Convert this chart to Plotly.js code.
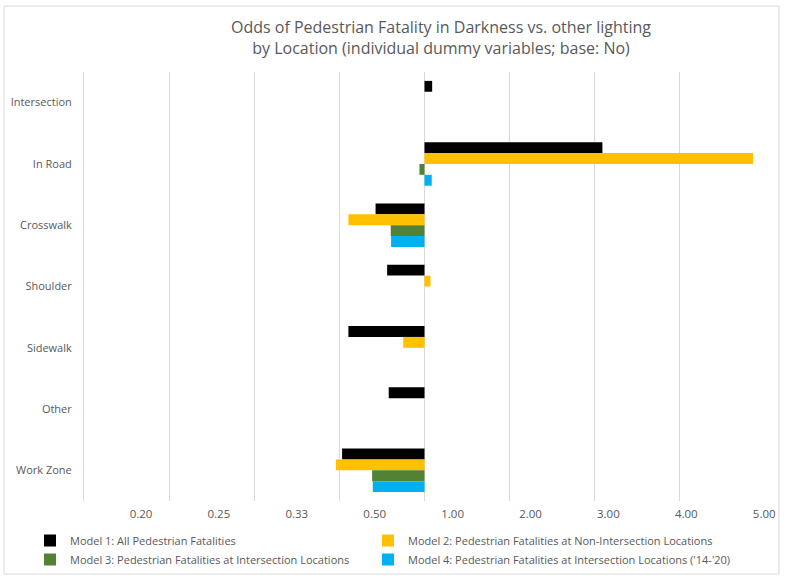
<!DOCTYPE html>
<html>
<head>
<meta charset="utf-8">
<script src="https://cdn.plot.ly/plotly-3.0.1.min.js"></script>
<style>
  html, body { margin: 0; padding: 0; background: #ffffff; }
  #chart { width: 792px; height: 580px; }
</style>
</head>
<body>
<div id="chart"></div>
<script>
// ---- Data (odds ratios) ----
const categories = ['Intersection', 'In Road', 'Crosswalk', 'Shoulder', 'Sidewalk', 'Other', 'Work Zone'];
const model1 = [1.09, 3.09, 0.635, 0.695, 0.528, 0.704, 0.508];
const model2 = [null, 4.86, 0.528, 1.07, 0.80, null, 0.49];
const model3 = [null, 0.944, 0.716, null, null, null, 0.619];
const model4 = [null, 1.085, 0.718, null, null, null, 0.622];
const seriesNames = [
  'Model 1: All Pedestrian Fatalities',
  'Model 2: Pedestrian Fatalities at Non-Intersection Locations',
  'Model 3: Pedestrian Fatalities at Intersection Locations',
  "Model 4: Pedestrian Fatalities at Intersection Locations ('14-'20)"
];
const seriesColors = ['#000000', '#FFC000', '#548235', '#00B0F0'];
const tickLabels = ['0.20', '0.25', '0.33', '0.50', '1.00', '2.00', '3.00', '4.00', '5.00'];

// Symmetric odds scale: OR>=1 -> OR-1, OR<1 -> 1-1/OR
function oddsScale(v) {
  if (v === null) return null;
  return v >= 1 ? v - 1 : 1 - 1 / v;
}

const allSeries = [model1, model2, model3, model4];
const legendIds = ['legend', 'legend2', 'legend', 'legend2'];
const traces = allSeries.map((s, i) => ({
  type: 'bar',
  orientation: 'h',
  y: categories,
  x: s.map(oddsScale),
  name: seriesNames[i],
  legend: legendIds[i],
  marker: { color: seriesColors[i], line: { width: 0 } },
  hoverinfo: 'name+y'
}));

// dummy trace on the label axis so xaxis2 is drawn
traces.push({
  type: 'scatter', mode: 'markers', x: [0], y: [categories[0]],
  xaxis: 'x2', yaxis: 'y', marker: { opacity: 0 }, showlegend: false, hoverinfo: 'skip'
});

// plot area in pixels
const L = 84, R = 765, T = 72, B = 501, W = 792, H = 580;
const px = v => (v - L) / (R - L);
const py = v => (B - v) / (B - T);

const legendBase = {
  orientation: 'v',
  yref: 'paper', y: py(526), yanchor: 'top',
  xanchor: 'left', xref: 'paper',
  font: { size: 11, color: '#595959' },
  itemwidth: 30,
  tracegroupgap: 0,
  traceorder: 'normal',
  bgcolor: 'rgba(0,0,0,0)'
};

const layout = {
  width: W, height: H,
  margin: { l: L, r: W - R, t: T, b: H - B, pad: 0, autoexpand: false },
  paper_bgcolor: '#ffffff',
  plot_bgcolor: '#ffffff',
  font: { family: '"Open Sans", "Noto Sans", sans-serif', color: '#595959', size: 11 },
  title: {
    text: 'Odds of Pedestrian Fatality in Darkness vs. other lighting<br>by Location (individual dummy variables; base: No)',
    font: { size: 16, color: '#595959', family: '"Open Sans", "Noto Sans", sans-serif' },
    xref: 'container', x: 441 / W, xanchor: 'center',
    yref: 'container', y: 1 - 33 / H, yanchor: 'top'
  },
  barmode: 'group',
  bargap: 0.29,
  bargroupgap: 0,
  xaxis: {
    range: [-4, 4],
    tickvals: [-4, -3, -2, -1, 0, 1, 2, 3, 4],
    showticklabels: false,
    showgrid: true, gridcolor: '#d9d9d9', gridwidth: 1,
    zeroline: true, zerolinecolor: '#d9d9d9', zerolinewidth: 1,
    showline: false, ticks: '', fixedrange: true
  },
  xaxis2: {
    overlaying: 'x', side: 'bottom', anchor: 'y',
    range: [(L - 141) / 77.9, (R - 141) / 77.9],
    tickvals: tickLabels.map((_, i) => i),
    ticktext: tickLabels,
    showgrid: false, zeroline: false, showline: false,
    ticks: 'outside', ticklen: 2, tickcolor: 'rgba(0,0,0,0)',
    tickfont: { size: 11.5, color: '#595959' },
    fixedrange: true
  },
  yaxis: {
    type: 'category',
    autorange: 'reversed',
    showgrid: false, zeroline: false,
    showline: true, linecolor: '#d9d9d9', linewidth: 1,
    ticks: '', ticklabelstandoff: 9,
    tickfont: { size: 11, color: '#595959' },
    fixedrange: true
  },
  showlegend: true,
  legend: Object.assign({}, legendBase, { x: px(30) }),
  legend2: Object.assign({}, legendBase, { x: px(368) }),
  shapes: [{
    type: 'rect', xref: 'paper', yref: 'paper',
    x0: px(4), x1: px(779), y0: py(574), y1: py(6),
    line: { color: '#d9d9d9', width: 1 }, fillcolor: 'rgba(0,0,0,0)', layer: 'below'
  }]
};

Plotly.newPlot('chart', traces, layout, { displayModeBar: false, staticPlot: true });
</script>
</body>
</html>
